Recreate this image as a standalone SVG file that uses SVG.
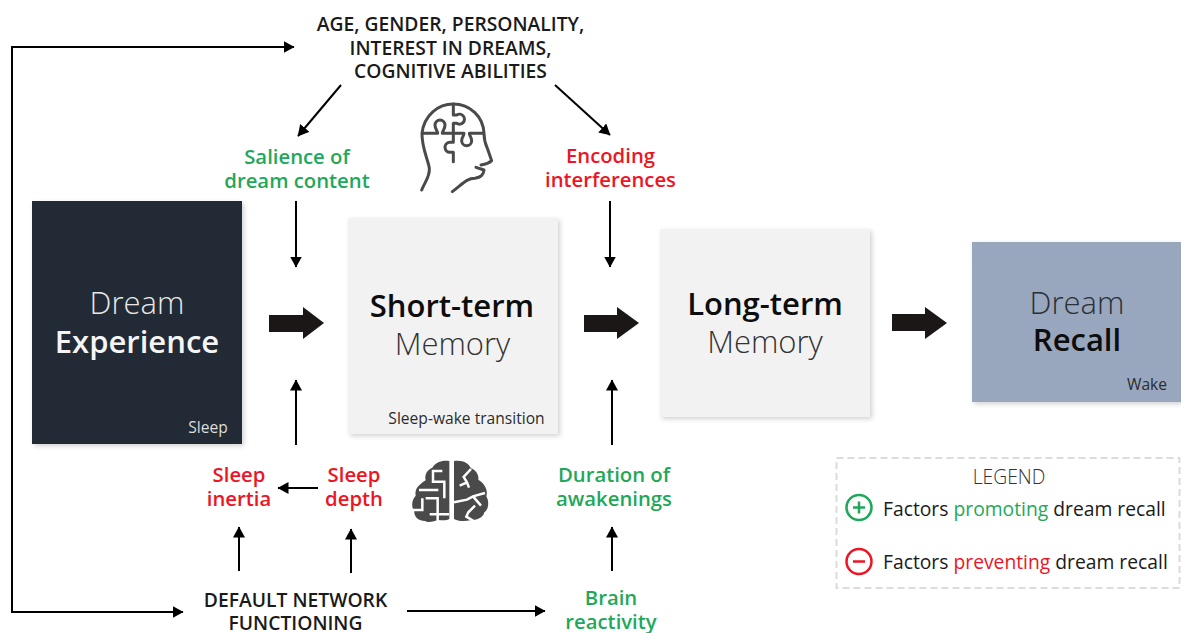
<svg xmlns="http://www.w3.org/2000/svg" width="1181" height="633" viewBox="0 0 1181 633">
<style>
text{font-family:"Open Sans","Noto Sans","DejaVu Sans",sans-serif;text-anchor:middle}
.t{font-size:19.3px;font-weight:600;fill:#1a1a1a}
.g{font-size:20.3px;font-weight:600;fill:#1fa85a}
.r{font-size:20.3px;font-weight:600;fill:#ed1524}
.big{font-size:31px;font-weight:300}
.bold{font-size:31px;font-weight:600}
.small{font-size:15.600px;font-weight:400;fill:#2c2c2c}
.leg{font-size:19.300px;font-weight:400;fill:#1a1a1a;text-anchor:start}
.c{fill:none;stroke:#000;stroke-width:2}
.a{fill:#1a1716}
.ic{fill:none;stroke:#4a4a4a;stroke-width:9;stroke-linecap:round;stroke-linejoin:round}
.br{fill:none;stroke:#fff;stroke-width:7.500}
</style>
<defs>
<marker id="h" markerUnits="userSpaceOnUse" markerWidth="12" markerHeight="12" refX="10.500" refY="6" orient="auto"><path d="M0 0L11 6L0 12Z" fill="#000"/></marker>
<filter id="sh" x="-5%" y="-5%" width="110%" height="110%"><feDropShadow dx="2" dy="2" stdDeviation="2.500" flood-color="#000" flood-opacity=".18"/></filter>
</defs>

<g id="connectors">
<path class="c" d="M12 47H294" marker-end="url(#h)"/>
<path class="c" d="M12 46V612H183" marker-end="url(#h)"/>
<path class="c" d="M341 85L298 136" marker-end="url(#h)"/>
<path class="c" d="M555 85L610 135" marker-end="url(#h)"/>
<path class="c" d="M296 201V267" marker-end="url(#h)"/>
<path class="c" d="M610 201V267" marker-end="url(#h)"/>
<path class="c" d="M296 445V380" marker-end="url(#h)"/>
<path class="c" d="M612 445V380" marker-end="url(#h)"/>
<path class="c" d="M318 488H278" marker-end="url(#h)"/>
<path class="c" d="M239 571V527" marker-end="url(#h)"/>
<path class="c" d="M351 573V529" marker-end="url(#h)"/>
<path class="c" d="M612 571V527" marker-end="url(#h)"/>
<path class="c" d="M407 611H545" marker-end="url(#h)"/>
<path class="a" d="M269 315H303V307L324 323L303 339V332H269Z"/>
<path class="a" d="M584 315H617V307L639 323L617 339V332H584Z"/>
<path class="a" d="M892 314H925V307L947 323L925 339V331H892Z"/>
</g>

<g id="factors-top"><text class="t" x="450.500" y="30.500">AGE, GENDER, PERSONALITY,</text><text class="t" x="450.500" y="54.500">INTEREST IN DREAMS,</text><text class="t" x="450.500" y="77.500">COGNITIVE ABILITIES</text></g>
<g id="salience"><text class="g" x="297" y="164">Salience of</text><text class="g" x="297" y="188">dream content</text></g>
<g id="encoding"><text class="r" x="610.500" y="163">Encoding</text><text class="r" x="610.500" y="187">interferences</text></g>

<g id="head-icon" transform="translate(400 90) scale(.3333)">
<path class="ic" d="M65 300C75 275 90 260 88 235C85 210 65 175 66 130C72 75 115 42 160 42C210 42 250 80 252 130C252 150 255 160 262 175L275 212C265 222 255 222 243 225M228 232L252 240C250 258 240 262 225 265C200 265 190 280 157 305"/>
<path class="ic" d="M68 130H113C113 122 105 118 105 105A15 15 0 1 1 135 105C135 118 127 122 127 130H192C192 138 185 142 185 152A15 15 0 1 0 215 152C215 142 208 138 208 130H250"/>
<path class="ic" d="M160 42V75H170A15 15 0 1 1 170 100H160V157H150A15 15 0 1 0 150 187H160V215"/>
</g>

<g id="brain-icon" transform="translate(405 455) scale(.3333)">
<path fill="#4a4a4a" d="M133 18C110 15 92 22 82 38C66 44 58 60 62 76C44 88 28 100 32 122C20 134 18 156 28 168C26 185 40 198 60 198C70 205 90 197 100 195C115 197 128 196 133 192Z"/>
<path fill="#4a4a4a" d="M147 18C170 14 190 22 198 40C215 46 222 62 220 74C238 84 250 105 244 124C254 140 250 165 238 172C235 188 215 196 195 196C180 200 155 198 147 192Z"/>
<path class="br" d="M112 48H84V80H118V130M42 105H100M62 130H98V198M20 165H52V130M132 178H74"/>
<path class="br" d="M198 42L176 66L186 82L164 92M186 82L192 98M147 142L186 134L204 124L240 114M204 124L228 152M210 152L190 172L184 185L206 198"/>
</g>

<g id="dream-experience"><rect x="32" y="201" width="210" height="243" fill="#222a35" filter="url(#sh)"/>
<text class="big" x="137" y="314" fill="#e8e8e8">Dream</text><text class="bold" x="137" y="353" fill="#f5f5f5">Experience</text><text class="small" x="208" y="433" style="fill:#ddd">Sleep</text></g>
<g id="short-term"><rect x="348" y="218" width="210" height="216" fill="#f2f2f2" filter="url(#sh)"/>
<text class="bold" x="452" y="317" fill="#0d0d0d">Short-term</text><text class="big" x="452.500" y="355" fill="#333">Memory</text><text class="small" x="466.500" y="424">Sleep-wake transition</text></g>
<g id="long-term"><rect x="660" y="229" width="210" height="188" fill="#f2f2f2" filter="url(#sh)"/>
<text class="bold" x="765" y="315" fill="#0d0d0d">Long-term</text><text class="big" x="765" y="353" fill="#333">Memory</text></g>
<g id="dream-recall"><rect x="972" y="242" width="209" height="160" fill="#98a7bd" filter="url(#sh)"/>
<text class="big" x="1077" y="314" fill="#2a2f38">Dream</text><text class="bold" x="1077" y="351" fill="#0d0d0d">Recall</text><text class="small" x="1147" y="390">Wake</text></g>

<g id="sleep-inertia"><text class="r" x="239" y="482">Sleep</text><text class="r" x="239" y="506">inertia</text></g>
<g id="sleep-depth"><text class="r" x="354" y="482">Sleep</text><text class="r" x="354" y="506">depth</text></g>
<g id="duration"><text class="g" x="614" y="482">Duration of</text><text class="g" x="614" y="506">awakenings</text></g>
<g id="default-network"><text class="t" x="295.500" y="606.500">DEFAULT NETWORK</text><text class="t" x="295.500" y="629.500">FUNCTIONING</text></g>
<g id="brain-reactivity"><text class="g" x="611" y="605">Brain</text><text class="g" x="611" y="629">reactivity</text></g>

<g id="legend">
<rect x="836.500" y="458" width="343" height="130" fill="none" stroke="#dcdcdc" stroke-width="2" stroke-dasharray="7 4"/>
<text x="1009" y="483.500" style="font-size:19.300px;font-weight:300;fill:#333">LEGEND</text>
<circle cx="859" cy="507.500" r="12.500" fill="none" stroke="#1fa85a" stroke-width="2.500"/><path d="M853 507.500H865M859 501.500V513.500" stroke="#1fa85a" stroke-width="2.500"/>
<text class="leg" x="883" y="515.500">Factors <tspan fill="#1fa85a">promoting</tspan> dream recall</text>
<circle cx="859" cy="561.500" r="12.500" fill="none" stroke="#ed1524" stroke-width="2.500"/><path d="M853 561.500H865" stroke="#ed1524" stroke-width="2.500"/>
<text class="leg" x="883" y="568.500">Factors <tspan fill="#ed1524">preventing</tspan> dream recall</text>
</g>
</svg>
